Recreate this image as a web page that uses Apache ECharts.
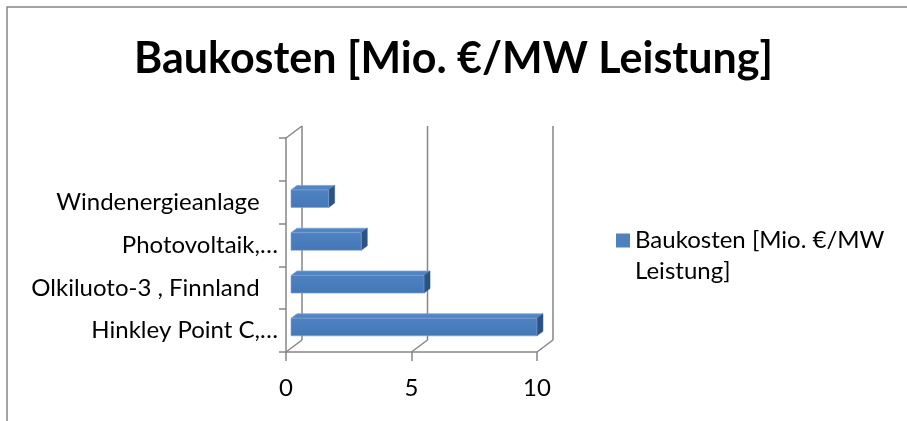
<!DOCTYPE html>
<html>
<head>
<meta charset="utf-8">
<script src="https://cdn.jsdelivr.net/npm/echarts@6/dist/echarts.min.js"></script>
<style>
html,body{margin:0;padding:0;background:#fff;}
#chart{width:907px;height:421px;}
</style>
</head>
<body>
<div id="chart"></div>
<script>
// ---- data ----
const categories = ['Hinkley Point C,…', 'Olkiluoto-3 , Finnland', 'Photovoltaik,…', 'Windenergieanlage', ''];
const values = [9.8, 5.3, 2.8, 1.5];
const xTicks = [0, 5, 10];
const seriesName = 'Baukosten [Mio. €/MW Leistung]';
const titleText = 'Baukosten [Mio. €/MW Leistung]';

const FONT = 'Lato';
const AXIS_COLOR = '#868686';
const WALL = [16, -12];      // depth offset of back wall
const BAR_FRONT = [5, -3.5]; // offset of bar front face
const BAR_DEPTH = [6, -4.5]; // bar depth

const chart = echarts.init(document.getElementById('chart'), null, {renderer: 'canvas'});

const option = {
  backgroundColor: '#fff',
  animation: false,
  title: {
    text: titleText,
    left: 'center',
    top: 33,
    textStyle: {fontFamily: FONT, fontWeight: 'bold', fontSize: 43, color: '#000'}
  },
  legend: {
    data: [seriesName],
    left: 616,
    top: 194,
    padding: 0,
    icon: 'rect',
    itemWidth: 14,
    itemHeight: 14,
    selectedMode: false,
    formatter: function () { return ' \nBaukosten [Mio. €/MW\nLeistung]'; },
    textStyle: {fontFamily: FONT, fontSize: 24, color: '#000', lineHeight: 31}
  },
  graphic: [{
    type: 'rect',
    shape: {x: 7, y: 7, width: 1000, height: 1000},
    style: {fill: 'none', stroke: AXIS_COLOR, lineWidth: 1.5},
    silent: true
  }],
  grid: {left: 286, top: 138, width: 251, height: 214, containLabel: false},
  xAxis: {
    type: 'value',
    min: 0, max: 10, interval: 5,
    axisLine: {show: true, lineStyle: {color: AXIS_COLOR, width: 1.5}},
    axisTick: {show: true, length: 9, lineStyle: {color: AXIS_COLOR, width: 1.5}},
    axisLabel: {fontFamily: FONT, fontSize: 24, color: '#000', margin: 24,
      formatter: function (v) { return xTicks.indexOf(v) >= 0 ? String(v) : ''; }},
    splitLine: {show: false}
  },
  yAxis: {
    type: 'category',
    data: categories,
    boundaryGap: true,
    axisLine: {show: true, lineStyle: {color: AXIS_COLOR, width: 1.5}},
    axisTick: {show: true, length: 7, lineStyle: {color: AXIS_COLOR, width: 1.5}},
    axisLabel: {fontFamily: FONT, fontSize: 24, color: '#000', margin: 8,
      formatter: function (v) { return v.endsWith('…') ? v : v + '   '; }},
    splitLine: {show: false}
  },
  series: [
    {
      type: 'custom',
      name: 'walls',
      silent: true,
      z: 1,
      data: xTicks.map(v => [v, 0]),
      encode: {x: 0, y: 1},
      renderItem: function (params, api) {
        const cs = params.coordSys;
        const v = api.value(0);
        const xf = api.coord([v, 0])[0];
        const yt = cs.y, yb = cs.y + cs.height;
        const st = {stroke: AXIS_COLOR, lineWidth: 1.5, fill: 'none'};
        const children = [
          {type: 'line', shape: {x1: xf + WALL[0], y1: yt + WALL[1], x2: xf + WALL[0], y2: yb + WALL[1]}, style: st},
          {type: 'line', shape: {x1: xf, y1: yb, x2: xf + WALL[0], y2: yb + WALL[1]}, style: st}
        ];
        if (v === 0) {
          children.push({type: 'line', shape: {x1: xf, y1: yt, x2: xf + WALL[0], y2: yt + WALL[1]}, style: st});
        }
        return {type: 'group', children: children};
      }
    },
    {
      type: 'custom',
      name: seriesName,
      z: 3,
      itemStyle: {color: '#4f81bd'},
      data: values.map((v, i) => [v, i]),
      encode: {x: 0, y: 1},
      renderItem: function (params, api) {
        const idx = api.value(1);
        const val = api.value(0);
        const p0 = api.coord([0, idx]);
        const p1 = api.coord([val, idx]);
        const band = api.size([0, 1])[1];
        const h = band * 0.41;
        const x0 = p0[0] + BAR_FRONT[0];
        const x1 = p1[0] + BAR_FRONT[0];
        const cy = p0[1] + BAR_FRONT[1];
        const yt = cy - h / 2, yb = cy + h / 2;
        const dx = BAR_DEPTH[0], dy = BAR_DEPTH[1];
        return {
          type: 'group',
          children: [
            {type: 'polygon', shape: {points: [[x0, yt], [x1, yt], [x1 + dx, yt + dy], [x0 + dx, yt + dy]]},
              style: {fill: '#5384c2', stroke: '#7aa3d8', lineWidth: 0.8}},
            {type: 'polygon', shape: {points: [[x1, yt], [x1 + dx, yt + dy], [x1 + dx, yb + dy], [x1, yb]]},
              style: {fill: '#2c5282', stroke: '#2c5282', lineWidth: 0.5}},
            {type: 'rect', shape: {x: x0, y: yt, width: x1 - x0, height: h},
              style: {fill: new echarts.graphic.LinearGradient(0, 0, 0, 1, [
                {offset: 0, color: '#4d82c2'}, {offset: 1, color: '#4677b5'}]),
                stroke: '#7aa3d8', lineWidth: 0.6}}
          ]
        };
      }
    }
  ]
};
chart.setOption(option);
</script>
</body>
</html>
